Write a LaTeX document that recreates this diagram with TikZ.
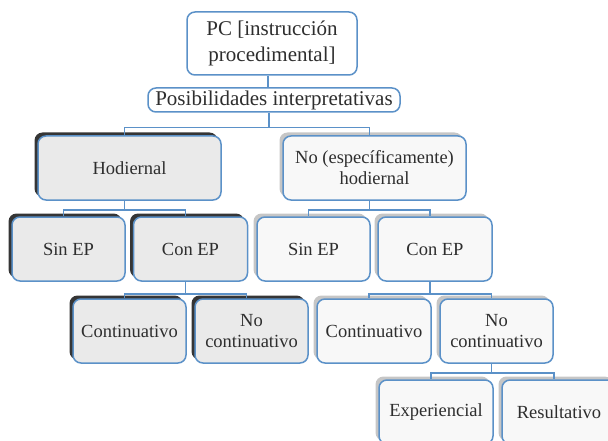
\documentclass[tikz,border=0pt]{standalone}
\usepackage{fontspec}
\setmainfont{Liberation Serif}
\usetikzlibrary{shadows,calc}
\definecolor{bblue}{HTML}{5B91C8}
\definecolor{darkback}{HTML}{353535}
\definecolor{grayback}{HTML}{C6C6C6}
\definecolor{fillA}{HTML}{EAEAEA}
\definecolor{fillB}{HTML}{F8F8F8}
\definecolor{txt}{HTML}{2E2E2E}
\tikzset{
  base/.style={draw=bblue, line width=1.5pt, rounded corners=8pt, align=center, text=txt, inner sep=2pt,
    font=\fontsize{18.5}{21}\selectfont},
  topbox/.style={base, fill=white, font=\fontsize{21}{26}\selectfont},
  boxA/.style={base, fill=fillA, drop shadow={shadow xshift=-3.5pt, shadow yshift=3.5pt, fill=darkback, opacity=1}},
  boxB/.style={base, fill=fillB, drop shadow={shadow xshift=-3.5pt, shadow yshift=3.5pt, fill=grayback, opacity=1}},
  conn/.style={draw=bblue, line width=1.5pt},
}
\newcommand{\elbow}[3]{\draw[conn] ([xshift=-5pt]#1.south) -- ++(0,#3) -| ([xshift=-5pt]#2.north);}
\begin{document}
\begin{tikzpicture}[x=1pt,y=-1pt]
\useasboundingbox (0,0) rectangle (608,441);
\node[topbox, minimum width=170, minimum height=63] (pc) at (272,43.5) {PC [instrucción\\procedimental]};
\node[topbox, minimum width=252, minimum height=24, inner sep=0pt] (pos) at (274,100) {Posibilidades interpretativas};
\node[boxA, minimum width=183, minimum height=64] (hod) at (129.5,168) {Hodiernal};
\node[boxB, minimum width=183, minimum height=64] (nhod) at (374.5,168) {No (específicamente)\\hodiernal};
\node[boxA, minimum width=113, minimum height=64] (sin1) at (68.5,249) {Sin EP};
\node[boxA, minimum width=114, minimum height=64] (con1) at (190.5,249) {Con EP};
\node[boxB, minimum width=113, minimum height=64] (sin2) at (313.5,249) {Sin EP};
\node[boxB, minimum width=114, minimum height=64] (con2) at (435,249) {Con EP};
\node[boxA, minimum width=113, minimum height=64] (cont1) at (129.5,331) {Continuativo};
\node[boxA, minimum width=113, minimum height=64] (ncont1) at (251.5,331) {No\\continuativo};
\node[boxB, minimum width=114, minimum height=64] (cont2) at (374,331) {Continuativo};
\node[boxB, minimum width=113, minimum height=64] (ncont2) at (496.5,331) {No\\continuativo};
\node[boxB, minimum width=114, minimum height=64] (exp) at (436,412) {Experiencial};
\node[boxB, minimum width=114, minimum height=64] (res) at (559,412) {Resultativo};
\draw[conn] ([xshift=-4pt]pc.south) -- ([xshift=-4pt]pc.south |- pos.north);
\elbow{pos}{hod}{15}
\elbow{pos}{nhod}{15}
\elbow{hod}{sin1}{9}
\elbow{hod}{con1}{9}
\elbow{nhod}{sin2}{9}
\elbow{nhod}{con2}{9}
\elbow{con1}{cont1}{12}
\elbow{con1}{ncont1}{12}
\elbow{con2}{cont2}{12}
\elbow{con2}{ncont2}{12}
\elbow{ncont2}{exp}{9}
\elbow{ncont2}{res}{9}
\end{tikzpicture}
\end{document}
